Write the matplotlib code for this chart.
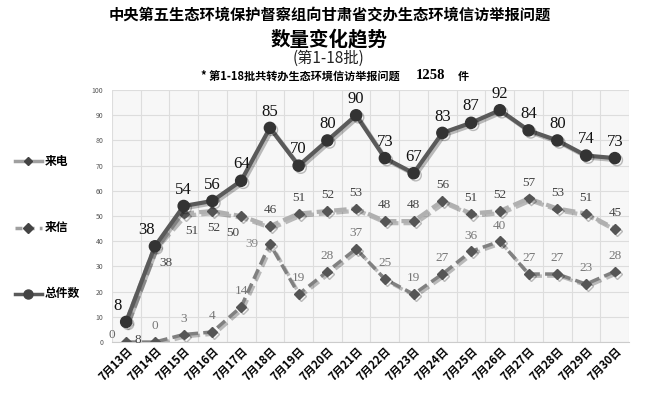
import numpy as np
import matplotlib.pyplot as plt
import matplotlib.patheffects as pe

plt.rcParams['font.family'] = ['Noto Sans CJK SC', 'DejaVu Sans']

dates = ['7月13日', '7月14日', '7月15日', '7月16日', '7月17日', '7月18日',
         '7月19日', '7月20日', '7月21日', '7月22日', '7月23日', '7月24日',
         '7月25日', '7月26日', '7月27日', '7月28日', '7月29日', '7月30日']
calls = [8, 38, 51, 52, 50, 46, 51, 52, 53, 48, 48, 56, 51, 52, 57, 53, 51, 45]
letters = [0, 0, 3, 4, 14, 39, 19, 28, 37, 25, 19, 27, 36, 40, 27, 27, 23, 28]
total = [8, 38, 54, 56, 64, 85, 70, 80, 90, 73, 67, 83, 87, 92, 84, 80, 74, 73]

fig = plt.figure(figsize=(6.5, 3.95), dpi=100)
ax = fig.add_axes([0.172, 0.134, 0.796, 0.638])
ax.set_facecolor('#f7f7f7')

x = np.arange(len(dates))
shadow = [pe.SimpleLineShadow(offset=(1.5, -1.5), shadow_color='#000000', alpha=0.25), pe.Normal()]

ax.plot(x, letters, color='#808080', lw=2.5, ls=(0, (3, 1.5)), marker='D', ms=5,
        mfc='#555555', mec='#555555', zorder=3, path_effects=shadow)
ax.plot(x, calls, color='#b0b0b0', lw=3, ls=(0, (3, 1.2)), marker='D', ms=5,
        mfc='#555555', mec='#555555', zorder=4, path_effects=shadow)
ax.plot(x, total, color='#5a5a5a', lw=3, marker='o', ms=8,
        mfc='#333333', mec='#333333', zorder=5, path_effects=shadow)

serif = 'Liberation Serif'
for i, v in enumerate(total):
    dx = -0.3 if i < 2 else 0
    ax.annotate(str(v), (x[i] + dx, v), xytext=(0, 6), textcoords='offset points',
                ha='center', va='bottom', fontsize=12, family=serif, color='#111111', zorder=6)
for i, v in enumerate(calls):
    if i == 0:
        ax.annotate(str(v), (x[i] + 0.4, v), xytext=(0, -9), textcoords='offset points',
                    ha='center', va='top', fontsize=9.5, family=serif, color='#444444', zorder=6)
    elif i < 5:
        dx = [0, 0.4, 0.3, 0.05, -0.3][i]
        ax.annotate(str(v), (x[i] + dx, v), xytext=(0, -8), textcoords='offset points',
                    ha='center', va='top', fontsize=9.5, family=serif, color='#444444', zorder=6)
    else:
        ax.annotate(str(v), (x[i], v), xytext=(0, 7), textcoords='offset points',
                    ha='center', va='bottom', fontsize=9.5, family=serif, color='#444444', zorder=6)
for i, v in enumerate(letters):
    if i == 0:
        ax.annotate(str(v), (x[i] - 0.5, v), xytext=(0, 1), textcoords='offset points',
                    ha='center', va='bottom', fontsize=9.5, family=serif, color='#666666', zorder=6)
    elif i == 5:
        ax.annotate(str(v), (x[i] - 0.62, v), xytext=(0, 0), textcoords='offset points',
                    ha='center', va='center', fontsize=9.5, family=serif, color='#888888', zorder=6)
    else:
        ax.annotate(str(v), (x[i], v), xytext=(0, 7), textcoords='offset points',
                    ha='center', va='bottom', fontsize=9.5, family=serif, color='#777777', zorder=6)

ax.set_xlim(-0.5, len(dates) - 0.5)
ax.set_ylim(0, 100)
ax.set_yticks(np.arange(0, 101, 10))
ax.set_xticks(x)
ax.set_xticklabels(dates, rotation=45, ha='right', rotation_mode='anchor',
                   fontsize=8, fontweight='bold')
ax.set_xticks(np.arange(-0.5, len(dates), 1), minor=True)
ax.tick_params(axis='y', labelsize=5, colors='#555555', length=0, pad=6)
ax.tick_params(axis='x', which='both', length=0, pad=2)
ax.grid(axis='y', color='#dddddd', lw=0.8)
ax.grid(axis='x', which='minor', color='#dddddd', lw=0.8)
for s in ax.spines.values():
    s.set_visible(False)
ax.spines['bottom'].set_visible(True)
ax.spines['bottom'].set_color('#cccccc')

fig.text(0.508, 0.962, '中央第五生态环境保护督察组向甘肃省交办生态环境信访举报问题',
         ha='center', va='center', fontsize=11, fontweight='bold')
fig.text(0.506, 0.9, '数量变化趋势', ha='center', va='center', fontsize=14, fontweight='bold')
fig.text(0.506, 0.853, '(第1-18批)', ha='center', va='center', fontsize=11, color='#222222')
fig.text(0.615, 0.806, '* 第1-18批共转办生态环境信访举报问题', ha='right', va='center',
         fontsize=8, fontweight='bold')
fig.text(0.64, 0.808, '1258', ha='left', va='center', fontsize=10.5, fontweight='bold', family=serif)
fig.text(0.705, 0.806, '件', ha='left', va='center', fontsize=8, fontweight='bold')

# legend on the left
legend_items = [
    ('来电', '#a0a0a0', '-', 'D', 4, 0.592),
    ('来信', '#a0a0a0', (0, (2, 1.5)), 'D', 5.5, 0.423),
    ('总件数', '#5a5a5a', '-', 'o', 6.5, 0.256),
]
for label, color, ls, mk, ms, yy in legend_items:
    fig.add_artist(plt.Line2D([0.023, 0.064], [yy, yy], color=color, lw=2.5, ls=ls))
    fig.add_artist(plt.Line2D([0.043], [yy], marker=mk, ms=ms, color='#444444', lw=0))
    fig.text(0.069, yy, label, ha='left', va='center', fontsize=8.5, fontweight='bold')

fig.savefig('out.png', dpi=100)
